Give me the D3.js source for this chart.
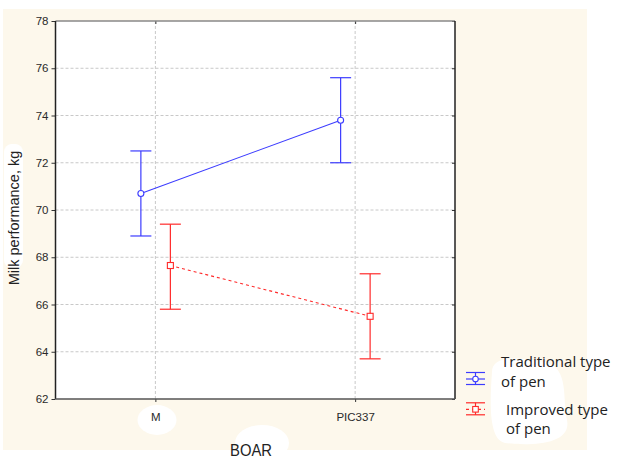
<!DOCTYPE html>
<html><head><meta charset="utf-8">
<script src="https://cdn.jsdelivr.net/npm/d3@7"></script>
<style>
html,body{margin:0;padding:0;background:#fff;}
svg{display:block;}
</style></head>
<body>
<svg id="c" width="618" height="462"></svg>
<script>
const categories = ["M", "PIC337"];
const traditionalMean = [70.7, 73.8];
const traditionalLow  = [68.9, 72.0];
const traditionalHigh = [72.5, 75.6];
const improvedMean = [67.65, 65.5];
const improvedLow  = [65.8, 63.7];
const improvedHigh = [69.4, 67.3];
const yTicks = [62, 64, 66, 68, 70, 72, 74, 76, 78];
const legendLabels = [["Traditional type", "of pen"], ["Improved type", "of pen"]];
const xTitle = "BOAR";
const yTitle = "Milk performance, kg";

const svg = d3.select("#c");
const L = 55.5, R = 455, T = 21, B = 399;
const blue = "#3c3cff", red = "#ff2a2a";

// background
svg.append("rect").attr("x", 3).attr("y", 9).attr("width", 584).attr("height", 441).attr("fill", "#fdf8ec");
// white paint blobs
svg.append("rect").attr("x", 4).attr("y", 144).attr("width", 19).attr("height", 124).attr("rx", 8).attr("fill", "#fff");
svg.append("ellipse").attr("cx", 157).attr("cy", 420).attr("rx", 19.5).attr("ry", 15).attr("fill", "#fff");
svg.append("ellipse").attr("cx", 262).attr("cy", 443).attr("rx", 27).attr("ry", 18).attr("fill", "#fff");
svg.append("path").attr("d", "M492,372 C492,354 520,358 545,362 C570,368 562,400 567,420 C572,445 530,446 505,443 C488,440 490,400 492,372 Z").attr("fill", "#fff");

svg.append("rect").attr("x", L).attr("y", T).attr("width", R - L).attr("height", B - T).attr("fill", "#fff");

const x = d3.scalePoint().domain(categories).range([L, R]).padding(0.5);
const y = d3.scaleLinear().domain([62, 78]).range([B, T]);

// grid
const g = svg.append("g");
g.selectAll("line.h").data(yTicks.slice(1, -1)).join("line")
  .attr("x1", L).attr("x2", R).attr("y1", d => y(d)).attr("y2", d => y(d))
  .attr("stroke", "#c8c8c8").attr("stroke-dasharray", "3,2").attr("stroke-width", 1);
g.selectAll("line.v").data(categories).join("line")
  .attr("x1", d => x(d)).attr("x2", d => x(d)).attr("y1", T).attr("y2", B)
  .attr("stroke", "#c8c8c8").attr("stroke-dasharray", "3,2").attr("stroke-width", 1);

// axes
const yAxis = svg.append("g").attr("transform", `translate(${L},0)`)
  .call(d3.axisLeft(y).tickValues(yTicks).tickSize(4).tickPadding(3).tickFormat(d3.format("d")));
yAxis.select(".domain").remove();
yAxis.selectAll("line").attr("stroke", "#333");
yAxis.selectAll("text").attr("font-family", "Liberation Sans, Arial, sans-serif").attr("font-size", 11.5).attr("fill", "#2a2a2a");

const yAxisR = svg.append("g").attr("transform", `translate(${R},0)`)
  .call(d3.axisLeft(y).tickValues(yTicks).tickSize(3).tickFormat(""));
yAxisR.select(".domain").remove();
yAxisR.selectAll("line").attr("stroke", "#333");

const xAxis = svg.append("g").attr("transform", `translate(0,${B})`)
  .call(d3.axisBottom(x).tickSize(3).tickPadding(11));
xAxis.select(".domain").remove();
xAxis.selectAll("line").attr("stroke", "#333");
xAxis.selectAll("text").attr("font-family", "Liberation Sans, Arial, sans-serif").attr("font-size", 11.5).attr("fill", "#2a2a2a");

const xAxisT = svg.append("g").attr("transform", `translate(0,${T})`)
  .call(d3.axisBottom(x).tickSize(3).tickFormat(""));
xAxisT.select(".domain").remove();
xAxisT.selectAll("line").attr("stroke", "#333");

// frame
svg.append("line").attr("x1", L).attr("x2", R).attr("y1", T).attr("y2", T).attr("stroke", "#888").attr("stroke-width", 1.5);
svg.append("line").attr("x1", L).attr("x2", L).attr("y1", T).attr("y2", B).attr("stroke", "#222").attr("stroke-width", 1.5);
svg.append("line").attr("x1", R).attr("x2", R).attr("y1", T).attr("y2", B).attr("stroke", "#222").attr("stroke-width", 1.5);
svg.append("line").attr("x1", L).attr("x2", R).attr("y1", B).attr("y2", B).attr("stroke", "#555").attr("stroke-width", 1.5);

// series
const series = [
  {mean: traditionalMean, low: traditionalLow, high: traditionalHigh, color: blue, off: -14.5, dash: null, marker: "circle"},
  {mean: improvedMean, low: improvedLow, high: improvedHigh, color: red, off: 15, dash: "3,3", marker: "square"}
];
const capW = 10.5;
series.forEach(s => {
  const pts = categories.map((c, i) => ({x: x(c) + s.off, m: s.mean[i], lo: s.low[i], hi: s.high[i]}));
  const sg = svg.append("g");
  sg.append("path").datum(pts)
    .attr("d", d3.line().x(d => d.x).y(d => y(d.m)))
    .attr("fill", "none").attr("stroke", s.color).attr("stroke-width", 1.1)
    .attr("stroke-dasharray", s.dash);
  pts.forEach(p => {
    sg.append("line").attr("x1", p.x).attr("x2", p.x).attr("y1", y(p.hi)).attr("y2", y(p.lo)).attr("stroke", s.color).attr("stroke-width", 1.2);
    sg.append("line").attr("x1", p.x - capW).attr("x2", p.x + capW).attr("y1", y(p.hi)).attr("y2", y(p.hi)).attr("stroke", s.color).attr("stroke-width", 1.2);
    sg.append("line").attr("x1", p.x - capW).attr("x2", p.x + capW).attr("y1", y(p.lo)).attr("y2", y(p.lo)).attr("stroke", s.color).attr("stroke-width", 1.2);
    if (s.marker === "circle") {
      sg.append("circle").attr("cx", p.x).attr("cy", y(p.m)).attr("r", 3).attr("fill", "#fff").attr("stroke", s.color).attr("stroke-width", 1.1);
    } else {
      sg.append("rect").attr("x", p.x - 3).attr("y", y(p.m) - 3).attr("width", 6).attr("height", 6).attr("fill", "#fff").attr("stroke", s.color).attr("stroke-width", 1.1);
    }
  });
});

// titles
svg.append("text").attr("x", 251).attr("y", 456).attr("text-anchor", "middle")
  .attr("font-family", "Liberation Sans, Arial, sans-serif").attr("font-size", 16).attr("fill", "#222")
  .attr("textLength", 42).attr("lengthAdjust", "spacingAndGlyphs").text(xTitle);
svg.append("text").attr("transform", "translate(19,218) rotate(-90)").attr("text-anchor", "middle")
  .attr("font-family", "Liberation Sans, Arial, sans-serif").attr("font-size", 14.5).attr("fill", "#222").text(yTitle);

// legend
const legY = [379, 409.3];
const legTextX = [501, 506];
const legTextY = [[367, 387], [415, 434]];
series.forEach((s, i) => {
  const cx = 475.5, cy = legY[i];
  const lg = svg.append("g");
  lg.append("line").attr("x1", cx - 9.5).attr("x2", cx + 9.5).attr("y1", cy - 6.5).attr("y2", cy - 6.5).attr("stroke", s.color).attr("stroke-width", 1.2);
  lg.append("line").attr("x1", cx - 9.5).attr("x2", cx + 9.5).attr("y1", cy + 5.5).attr("y2", cy + 5.5).attr("stroke", s.color).attr("stroke-width", 1.2);
  lg.append("line").attr("x1", cx).attr("x2", cx).attr("y1", cy - 6.5).attr("y2", cy + 5.5).attr("stroke", s.color).attr("stroke-width", 1.2);
  lg.append("line").attr("x1", cx - 9.5).attr("x2", cx + 9.5).attr("y1", cy).attr("y2", cy).attr("stroke", s.color).attr("stroke-width", 1.2).attr("stroke-dasharray", s.dash);
  if (s.marker === "circle") {
    lg.append("circle").attr("cx", cx).attr("cy", cy).attr("r", 2.8).attr("fill", "#fff").attr("stroke", s.color).attr("stroke-width", 1.1);
  } else {
    lg.append("rect").attr("x", cx - 2.8).attr("y", cy - 2.8).attr("width", 5.6).attr("height", 5.6).attr("fill", "#fff").attr("stroke", s.color).attr("stroke-width", 1.1);
  }
  legendLabels[i].forEach((t, j) => {
    lg.append("text").attr("x", legTextX[i]).attr("y", legTextY[i][j])
      .attr("font-family", "Open Sans, Noto Sans, sans-serif").attr("font-size", 15).attr("fill", "#222").text(t);
  });
});
</script>
</body></html>
